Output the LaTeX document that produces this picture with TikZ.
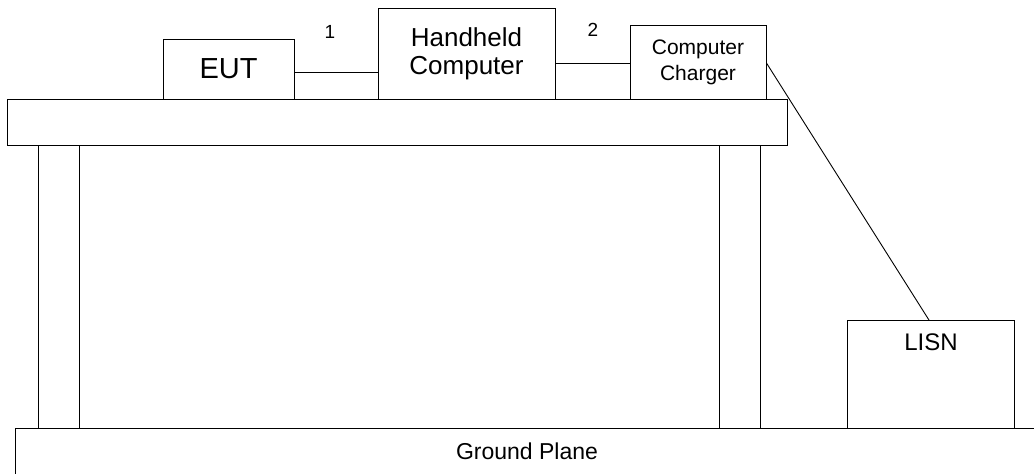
\documentclass[tikz,border=0pt]{standalone}
\usepackage{fontspec}
\setmainfont{Liberation Sans}
\usetikzlibrary{positioning}

\begin{document}
\begin{tikzpicture}[
  x=1pt, y=-1pt,
  line width=0.9pt,
  part/.style={draw, rectangle, inner sep=0pt, align=center},
  plate/.style={part, anchor=north west},
  cable/.style={line width=0.9pt},
  num/.style={font=\fontsize{19}{19}\selectfont}]
  \clip (0,0) rectangle (1034,474);
  \node[plate, minimum width=780pt, minimum height=46pt] (top) at (7,99) {};
  \node[plate, minimum width=41pt, minimum height=283pt] (legl) at (38,145) {};
  \node[plate, minimum width=41pt, minimum height=283pt] (legr) at (719,145) {};
  \node[plate, minimum width=1100pt, minimum height=80pt] (gnd) at (15,428) {};
  \node[font=\fontsize{23}{23}\selectfont] (gndtxt) at (527,451) {Ground Plane};
  \node[part, minimum width=131pt, minimum height=60pt,
        font=\fontsize{29}{29}\selectfont] (eut) at (228.5,69) {EUT};
  \node[part, minimum width=177pt, minimum height=91pt,
        font=\fontsize{26}{28}\selectfont] (hh) at (466.5,53.5) {Handheld\\Computer};
  \node[part, minimum width=136pt, minimum height=74pt,
        font=\fontsize{21}{26}\selectfont] (ch) at (698,62) {Computer\\Charger};
  \node[plate, minimum width=167pt, minimum height=108pt] (lisn) at (847,320) {};
  \node[font=\fontsize{24}{24}\selectfont, below=10pt of lisn.north] (lisntxt) {LISN};
  \draw[cable] ([yshift=-3pt]eut.east) -- ([yshift=-3pt]eut.east -| hh.west);
  \draw[cable] ([yshift=-1pt]ch.west -| hh.east) -- ([yshift=-1pt]ch.west);
  \draw[cable] ([yshift=-1pt]ch.east) -- ([xshift=-2pt]lisn.north);
  \node[num] (n1) at (330,32) {1};
  \node[num] (n2) at (593,30) {2};
\end{tikzpicture}
\end{document}
